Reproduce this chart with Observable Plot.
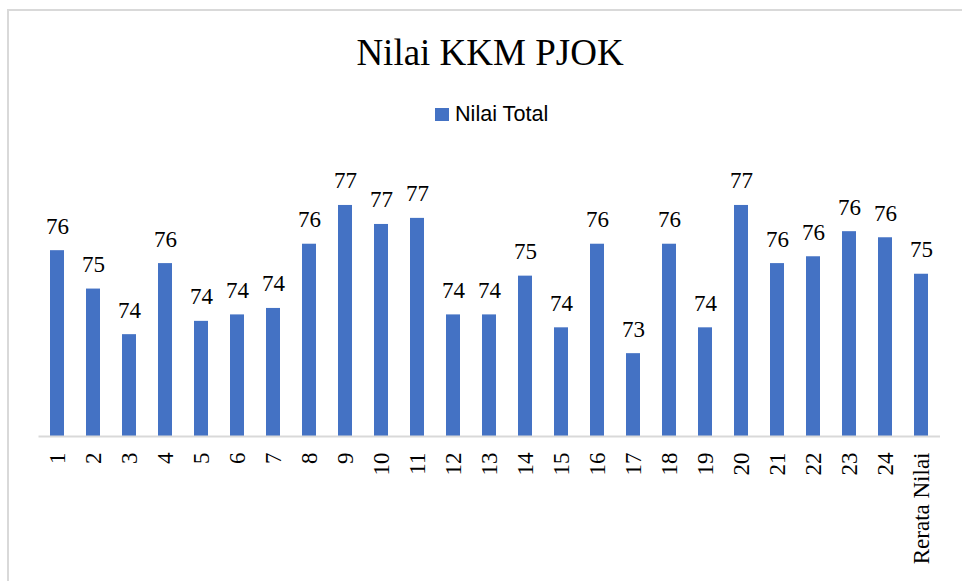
<!DOCTYPE html>
<html><head><meta charset="utf-8">
<script src="https://cdn.jsdelivr.net/npm/d3@7"></script>
<script src="https://cdn.jsdelivr.net/npm/@observablehq/plot@0.6"></script>
<style>
body{margin:0;background:#fff;}
#page{position:relative;width:962px;height:581px;overflow:hidden;background:#fff;}
#frame{position:absolute;left:7px;top:9px;width:1000px;height:700px;border-left:2px solid #d9d9d9;border-top:2px solid #d9d9d9;}
#title{position:absolute;left:0;width:980px;top:34px;text-align:center;font-family:"Liberation Serif";font-size:37px;line-height:37px;color:#000;white-space:nowrap;}
#lgsw{position:absolute;left:435px;top:108px;width:14px;height:13px;background:#4472C4;}
#lgtx{position:absolute;left:455px;top:103.4px;font-family:"Liberation Sans";font-size:21.6px;line-height:21.6px;color:#000;white-space:nowrap;}
#chart{position:absolute;left:0;top:140px;}
</style>
</head><body>
<div id="page">
  <div id="frame"></div>
  <div id="title">Nilai KKM PJOK</div>
  <div id="lgsw"></div>
  <div id="lgtx">Nilai Total</div>
  <div id="chart"></div>
</div>
<script>
const categories = ["1","2","3","4","5","6","7","8","9","10","11","12","13","14","15","16","17","18","19","20","21","22","23","24","Rerata Nilai"];
const values = [75.89,74.88,73.68,75.55,74.03,74.20,74.37,76.06,77.08,76.58,76.74,74.20,74.20,75.22,73.86,76.06,73.18,76.06,73.86,77.08,75.55,75.73,76.39,76.23,75.27];
const seriesName = "Nilai Total";
const data = categories.map((c, i) => ({category: c, value: values[i]}));
const base = 71;

const chart = Plot.plot({
  width: 962,
  height: 441,
  marginLeft: 38.5,
  marginRight: 22,
  marginTop: 30,
  marginBottom: 145,
  style: {fontFamily: "Liberation Serif", fontSize: "23px", background: "transparent", color: "#000"},
  x: {domain: categories, paddingInner: 0.6, paddingOuter: 0.3, label: null},
  y: {domain: [base, 78], axis: null},
  marks: [
    Plot.barY(data, {x: "category", y1: base, y2: "value", fill: "#4472C4"}),
    Plot.ruleY([base], {stroke: "#d9d9d9", strokeWidth: 2}),
    Plot.text(data, {x: "category", y: "value", text: d => String(Math.round(d.value)), lineAnchor: "bottom", dy: -17, fontSize: 23, fontFamily: "Liberation Serif", fill: "#000"}),
    Plot.axisX({tickSize: 0, tickPadding: 16, tickRotate: -90, fontSize: 23, fontFamily: "Liberation Serif", label: null, fill: "#000"})
  ]
});
document.getElementById("chart").appendChild(chart);
</script>
</body></html>
